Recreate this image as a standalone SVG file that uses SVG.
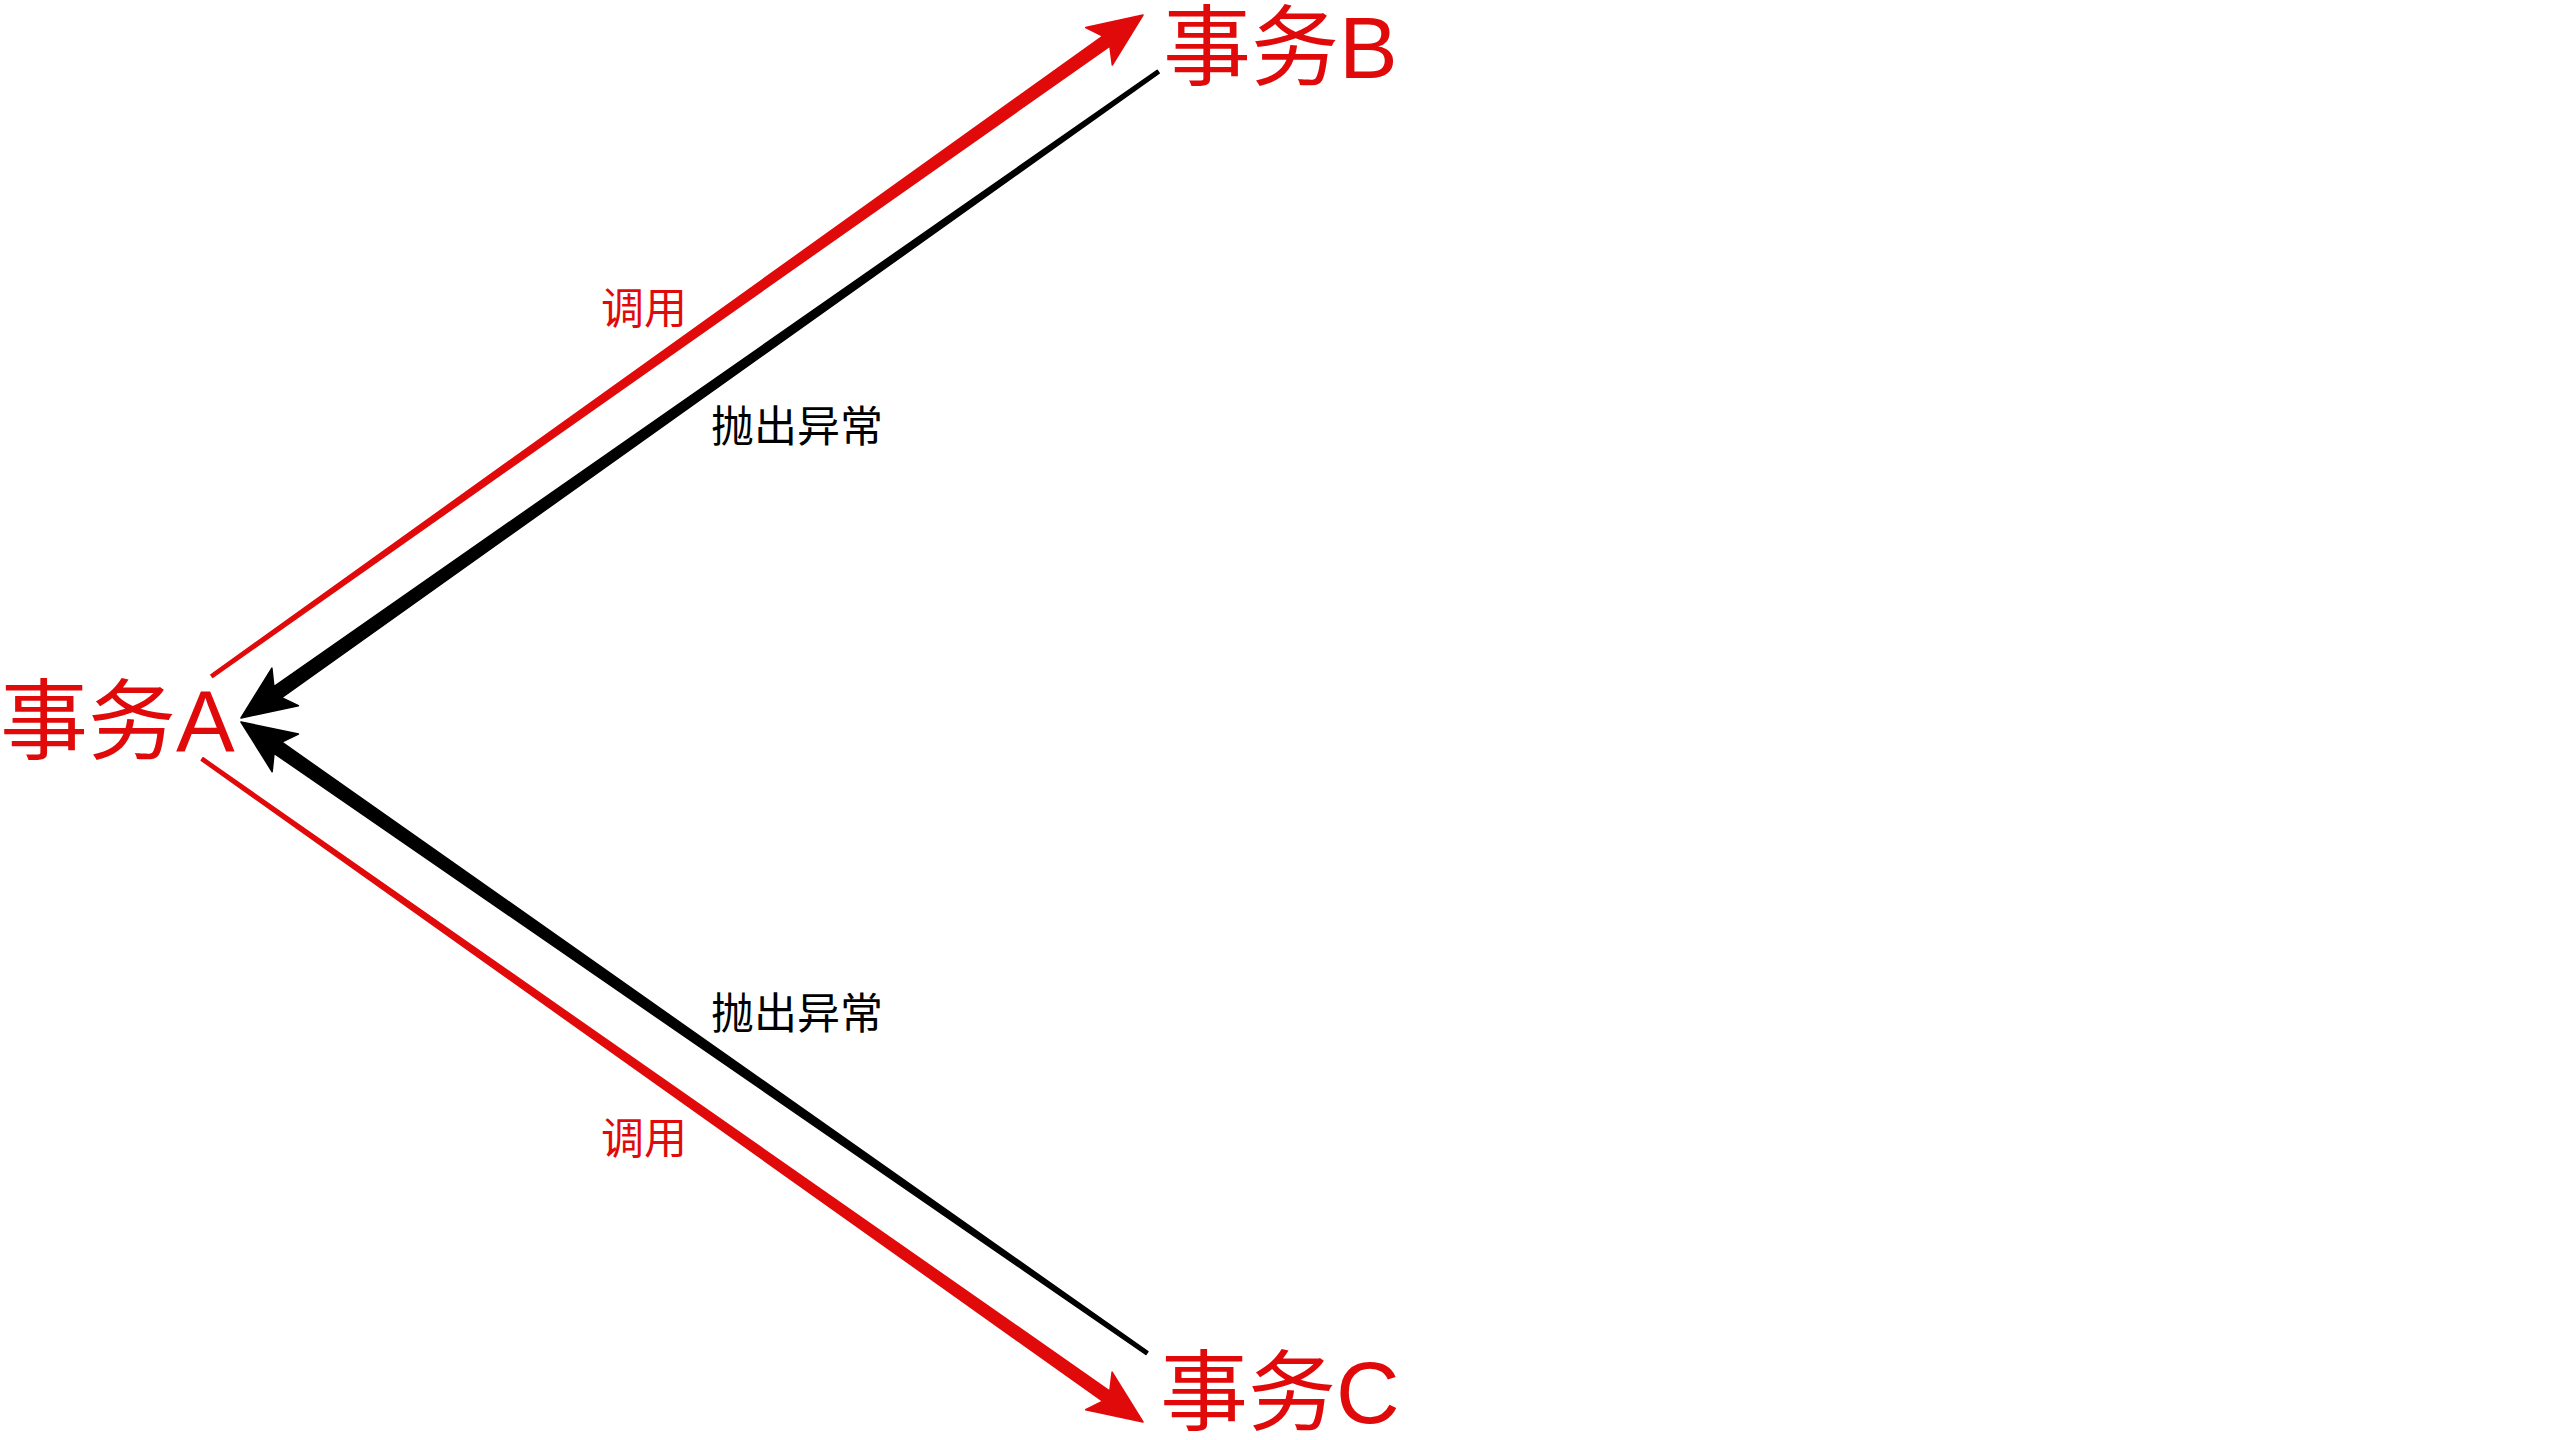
<svg xmlns="http://www.w3.org/2000/svg" width="2560" height="1440" viewBox="0 0 2560 1440">
  <style>
    .node { font-family: "Liberation Sans", "Noto Sans CJK SC", sans-serif; font-size: 88px; fill: #e10a0a; }
    .lbl { font-family: "Noto Sans CJK SC", sans-serif; font-size: 43px; }
    .red { fill: #e10a0a; stroke: #e10a0a; }
    .blk { fill: #000000; stroke: #000000; }
    .conn path { stroke-width: 1.5; stroke-linejoin: round; }
  </style>
  <rect width="2560" height="1440" fill="#ffffff"/>

  <g id="connectors" class="conn">
    <!-- A calls B -->
    <path id="edge-A-B" class="red" transform="translate(1143,15) rotate(-35.37)" d="M -1142,-1.6 L -45,-6.2 L -54,-23 L 0,0 L -54,23 L -45,6.2 L -1142,1.6 Z"/>
    <!-- B throws to A -->
    <path id="edge-B-A" class="blk" transform="translate(241,718) rotate(144.83)" d="M -1122,-1.8 L -45,-6.8 L -54,-23 L 0,0 L -54,23 L -45,6.8 L -1122,1.8 Z"/>
    <!-- C throws to A -->
    <path id="edge-C-A" class="blk" transform="translate(241,722) rotate(-145.14)" d="M -1104,-1.8 L -45,-6.8 L -54,-23 L 0,0 L -54,23 L -45,6.8 L -1104,1.8 Z"/>
    <!-- A calls C -->
    <path id="edge-A-C" class="red" transform="translate(1143,1422) rotate(35.17)" d="M -1151,-1.6 L -45,-6.2 L -54,-23 L 0,0 L -54,23 L -45,6.2 L -1151,1.6 Z"/>
  </g>

  <g id="edge-labels">
    <text class="lbl" x="601" y="324" fill="#e10a0a">调用</text>
    <text class="lbl" x="711" y="442" fill="#000000">抛出异常</text>
    <text class="lbl" x="711" y="1029" fill="#000000">抛出异常</text>
    <text class="lbl" x="601" y="1154" fill="#e10a0a">调用</text>
  </g>

  <g id="node-A">
    <text class="node" x="0" y="752">事务A</text>
  </g>
  <g id="node-B">
    <text class="node" x="1163" y="78">事务B</text>
  </g>
  <g id="node-C">
    <text class="node" x="1160" y="1423">事务C</text>
  </g>
</svg>
